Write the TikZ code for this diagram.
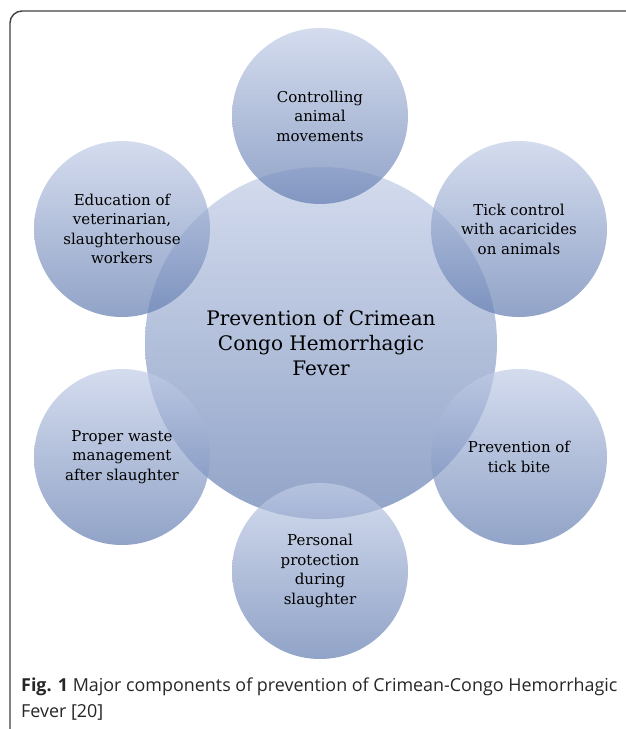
\documentclass[tikz,border=0pt]{standalone}
\usepackage{fontspec}
\setmainfont{DejaVu Serif}
\newfontfamily\captionfont{Open Sans}
\definecolor{bubbletop}{RGB}{194,205,231}
\definecolor{bubblebottom}{RGB}{98,124,176}
\tikzset{
  bubble/.style={circle, minimum size=176pt, inner sep=0pt, top color=bubbletop,
    bottom color=bubblebottom, fill opacity=0.7, text opacity=1, align=center,
    font=\fontsize{15}{19.5}\selectfont},
  hub/.style={bubble, minimum size=352pt, font=\fontsize{20}{25}\selectfont}
}

\begin{document}
\begin{tikzpicture}[x=1pt, y=-1pt]
  \useasboundingbox (0,0) rectangle (625,729);
  \draw[line width=1.4pt, color=black!75, rounded corners=12pt] (10,740) -- (10,11) -- (640,11);

  \node[hub] (hub) at (321,343) {Prevention of Crimean\\Congo Hemorrhagic\\Fever};

  \node[bubble] (movements) at (320,116) {Controlling\\animal\\movements};
  \node[bubble] (ticks) at (519,229) {Tick control\\with acaricides\\on animals};
  \node[bubble] (bite) at (519,457) {Prevention of\\tick bite};
  \node[bubble] (protection) at (320,571) {Personal\\protection\\during\\slaughter};
  \node[bubble] (waste) at (122,457) {Proper waste\\management\\after slaughter};
  \node[bubble] (education) at (122,229) {Education of\\veterinarian,\\slaughterhouse\\workers};

  \node[anchor=north west, inner sep=0pt, align=left, text=black!85,
    font=\captionfont\fontsize{17.9}{26}\selectfont] (caption) at (21,678)
    {\textbf{Fig. 1} Major components of prevention of Crimean-Congo Hemorrhagic\\Fever [20]};
\end{tikzpicture}
\end{document}
